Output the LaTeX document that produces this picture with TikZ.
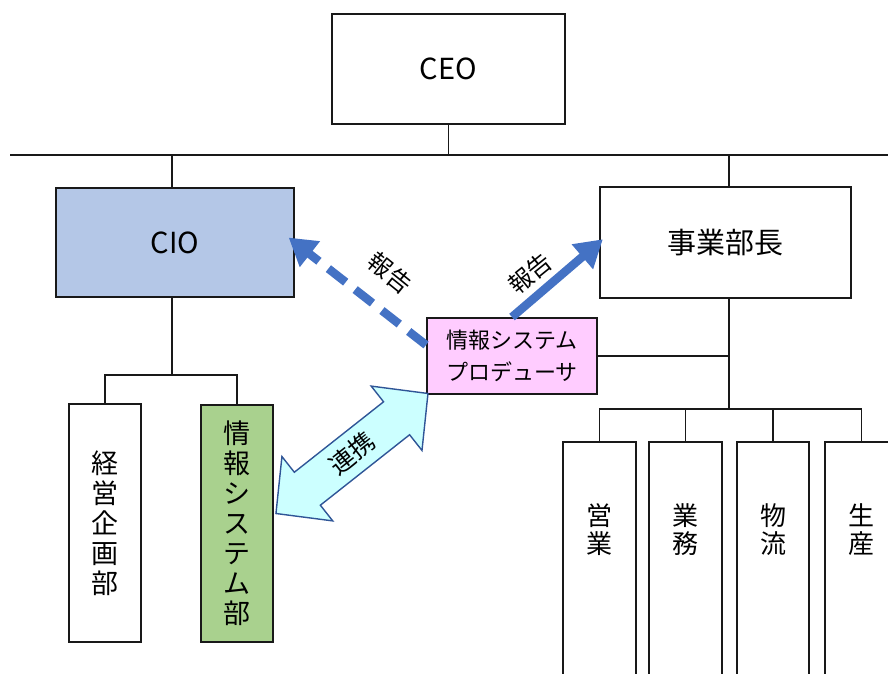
\documentclass[tikz,border=0pt]{standalone}
\usepackage{fontspec}
\setmainfont{Noto Sans CJK JP}
\usetikzlibrary{arrows.meta,calc}
\definecolor{cioblue}{HTML}{B4C7E7}
\definecolor{prodpink}{HTML}{FFCCFF}
\definecolor{isysgreen}{HTML}{A9D18E}
\definecolor{arrowblue}{HTML}{4472C4}
\definecolor{linkfill}{HTML}{CCFFFF}
\definecolor{linkedge}{HTML}{2F5597}
\tikzset{
  box/.style={draw=black!90, line width=1.9pt, inner sep=0pt, align=center},
  conn/.style={draw=black!90, line width=1.8pt},
  bigtext/.style={font=\fontsize{29}{32}\selectfont},
  vtext/.style={font=\fontsize{27}{30}\selectfont, align=center, inner sep=0pt},
  rtext/.style={font=\fontsize{26}{28}\selectfont, align=center, inner sep=0pt},
  rep/.style={line width=8.5pt, draw=arrowblue, -{Triangle[length=27pt,width=31pt]}},
  replabel/.style={font=\fontsize{24}{26}\selectfont, inner sep=0pt}
}
\begin{document}
\begin{tikzpicture}[x=1pt,y=-1pt]
\useasboundingbox (0,0) rectangle (888,673);
\clip (0,0) rectangle (888,673);
% nodes
\node[box, bigtext, minimum width=233pt, minimum height=110pt] (ceo) at (448.5,69) {CEO};
\node[box, bigtext, fill=cioblue, minimum width=238pt, minimum height=109pt] (cio) at (175,242.5) {CIO};
\node[box, bigtext, minimum width=251pt, minimum height=111pt] (biz) at (725.5,242.5) {事業部長};
\node[box, fill=prodpink, font=\fontsize{22}{32}\selectfont, minimum width=170pt, minimum height=76pt] (prod) at (512,356) {情報システム\\プロデューサ};
\node[box, minimum width=72pt, minimum height=238pt] (kei) at (105,523) {};
\node[vtext] (keit) at (kei.center) {経\\営\\企\\画\\部};
\node[box, fill=isysgreen, minimum width=72pt, minimum height=237pt] (isys) at (237,523.5) {};
\node[vtext] (isyst) at (isys.center) {情\\報\\シ\\ス\\テ\\ム\\部};
\node[box, minimum width=73pt, minimum height=278pt, anchor=north] (eig) at (599.5,441) {};
\node[box, minimum width=73pt, minimum height=278pt, anchor=north] (gym) at (685.5,441) {};
\node[box, minimum width=72pt, minimum height=278pt, anchor=north] (btr) at (773,441) {};
\node[box, minimum width=73pt, minimum height=278pt, anchor=north] (ssn) at (861.5,441) {};
\node[rtext] (eigt) at ($(eig.north)+(0,89)$) {営\\業};
\node[rtext] (gymt) at ($(gym.north)+(0,89)$) {業\\務};
\node[rtext] (btrt) at ($(btr.north)+(0,89)$) {物\\流};
\node[rtext] (ssnt) at ($(ssn.north)+(0,89)$) {生\\産};
% bus lines
\coordinate (busL) at (10,155);
\coordinate (busR) at (888,155);
\draw[conn] (busL) -- (busR);
\draw[conn] (ceo.south) -- (ceo.south |- busL);
\draw[conn] (cio.north -| 172,0) -- (172,155);
\draw[conn] (biz.north -| 729,0) -- (729,155);
% CIO branch
\coordinate (cioJ) at (172,375);
\draw[conn] (cio.south -| cioJ) -- (cioJ);
\draw[conn] (kei.north) |- (cioJ) -| (isys.north);
% business branch
\coordinate (bizJ) at (729,409);
\draw[conn] (biz.south -| bizJ) -- (bizJ);
\draw[conn] (prod.east) -- (prod.east -| bizJ);
\draw[conn] (eig.north) |- (bizJ);
\draw[conn] (bizJ) -| (ssn.north);
\draw[conn] (gym.north) -- (gym.north |- bizJ);
\draw[conn] (btr.north) -- (btr.north |- bizJ);
% report arrows
\draw[rep, dash pattern=on 22pt off 12pt, shorten >=-8pt] ($(prod.west)+(0,-11)$) -- (cio.east);
\node[replabel, rotate=-39] (rl) at (390,273) {報告};
\draw[rep, shorten >=-5pt] (prod.north) -- (biz.west);
\node[replabel, rotate=39] (rr) at (530,273) {報告};
% link block arrow
\coordinate (lA) at (prod.south west);
\coordinate (lB) at ($(isys.east)+(2,-10)$);
\begin{scope}[shift={(lB)}, rotate=38.29]
  \filldraw[fill=linkfill, draw=linkedge, line width=1.4pt, line join=miter]
    (0,0) -- (40,41) -- (40,21) -- (153.7,21) -- (153.7,41) -- (193.7,0)
    -- (153.7,-41) -- (153.7,-21) -- (40,-21) -- (40,-41) -- cycle;
  \node[font=\fontsize{25}{27}\selectfont, rotate=38.29, inner sep=0pt] (linkt) at (96.85,0) {連携};
\end{scope}
\end{tikzpicture}
\end{document}
